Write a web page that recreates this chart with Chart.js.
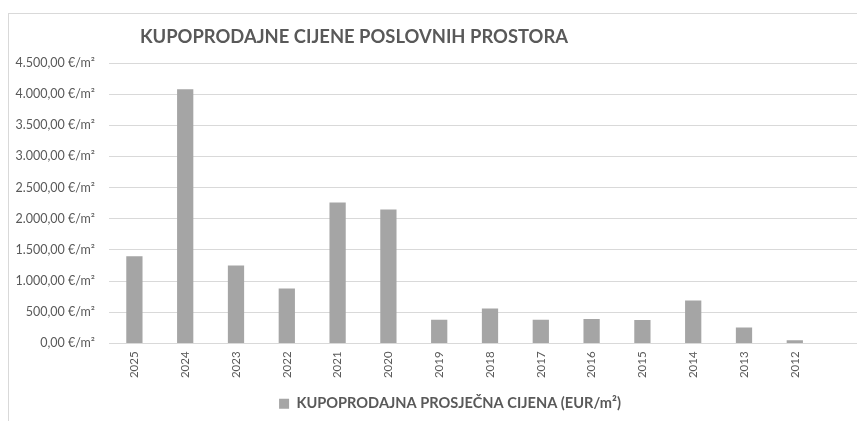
<!DOCTYPE html>
<html>
<head>
<meta charset="utf-8">
<script src="https://cdn.jsdelivr.net/npm/chart.js@4"></script>
<style>
    html, body { margin: 0; padding: 0; background: #fff; overflow: hidden; }
    body { width: 857px; height: 421px; position: relative; font-family: Lato, 'Open Sans', sans-serif; }
    #frame {
        position: absolute; left: 8px; top: 13px;
        width: 862px; height: 407px;
        border-top: 1px solid #d9d9d9; border-left: 1px solid #d9d9d9;
    }
    #title {
        position: absolute; left: 0; top: 24px; width: 708px;
        text-align: center; font-weight: bold; font-size: 18.4px; line-height: 24px;
        color: #595959;
    }
</style>
</head>
<body>
<div id="frame"><canvas id="chart" width="862" height="407"></canvas></div>
<div id="title">KUPOPRODAJNE CIJENE POSLOVNIH PROSTORA</div>
<script>
/* Kupoprodajne cijene poslovnih prostora - bar chart */

const years = ['2025', '2024', '2023', '2022', '2021', '2020', '2019',
               '2018', '2017', '2016', '2015', '2014', '2013', '2012'];
const prices = [1400, 4080, 1250, 880, 2260, 2150, 380,
                560, 380, 390, 375, 690, 255, 50];
const seriesLabel = 'KUPOPRODAJNA PROSJEČNA CIJENA (EUR/m²)';
const yMax = 4500;
const yStep = 500;

const textColor = '#595959';
const gridColor = '#d9d9d9';
const barColor = '#a5a5a5';

function formatEur(v) {
    const parts = v.toFixed(2).split('.');
    parts[0] = parts[0].replace(/\B(?=(\d{3})+(?!\d))/g, '.');
    return parts[0] + ',' + parts[1] + ' €/m²';
}

// one empty slot at the end, the plot runs past the cropped right edge
const labels = years.concat(['']);
const values = prices.concat([null]);

// the original legend sits a little right of the canvas centre
const legendShift = {
    id: 'legendShift',
    afterLayout(chart) {
        chart.legend.left += 10;
        chart.legend.right += 10;
    }
};

const ctx = document.getElementById('chart').getContext('2d');
new Chart(ctx, {
    type: 'bar',
    data: {
        labels: labels,
        datasets: [{
            label: seriesLabel,
            data: values,
            backgroundColor: barColor,
            borderWidth: 0,
            barPercentage: 0.32,
            categoryPercentage: 1,
        }]
    },
    options: {
        responsive: false,
        animation: false,
        layout: {
            autoPadding: false,
            padding: { top: 49, left: 0, right: 0, bottom: 0 }
        },
        scales: {
            x: {
                grid: { display: false, drawTicks: false },
                border: { display: false },
                ticks: {
                    color: textColor,
                    font: { family: 'Lato', size: 11.5 },
                    minRotation: 90,
                    maxRotation: 90,
                    padding: 8,
                    autoSkip: false,
                },
                afterFit: function (scale) { scale.height = 44; }
            },
            y: {
                min: 0,
                max: yMax,
                grid: { color: gridColor, lineWidth: 1, drawTicks: false },
                border: { display: false },
                ticks: {
                    stepSize: yStep,
                    color: textColor,
                    font: { family: 'Lato', size: 12.5 },
                    padding: 14,
                    callback: function (v) { return formatEur(v); }
                },
                afterFit: function (scale) { scale.width = 100; }
            }
        },
        plugins: {
            legend: {
                position: 'bottom',
                labels: {
                    color: textColor,
                    font: { family: 'Lato', size: 14.6, weight: 'bold' },
                    boxWidth: 10,
                    boxHeight: 10,
                    padding: 9,
                }
            },
            tooltip: { enabled: false }
        }
    },
    plugins: [legendShift]
});
</script>
</body>
</html>
